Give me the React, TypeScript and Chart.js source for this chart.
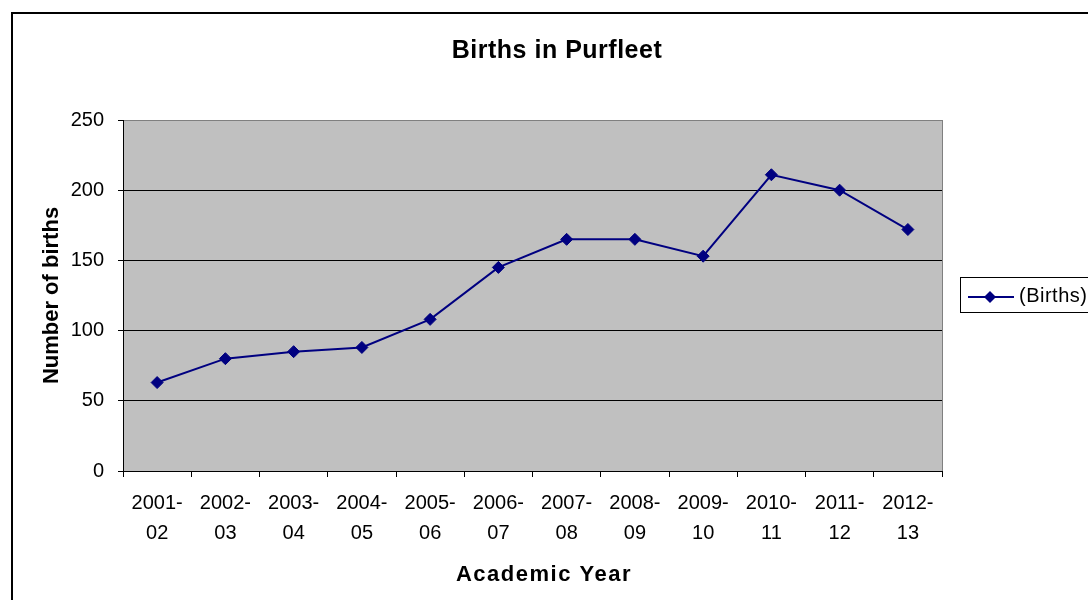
import React, { useEffect, useRef } from "react";
import { Chart, registerables } from "chart.js";

Chart.register(...registerables);

const chartTitle = "Births in Purfleet";
const xAxisTitle = "Academic Year";
const yAxisTitle = "Number of births";
const seriesName = "(Births)";

const categories: string[][] = [
  ["2001-", "02"],
  ["2002-", "03"],
  ["2003-", "04"],
  ["2004-", "05"],
  ["2005-", "06"],
  ["2006-", "07"],
  ["2007-", "08"],
  ["2008-", "09"],
  ["2009-", "10"],
  ["2010-", "11"],
  ["2011-", "12"],
  ["2012-", "13"],
];

const births: number[] = [63, 80, 85, 88, 108, 145, 165, 165, 153, 211, 200, 172];

const yMin = 0;
const yMax = 250;
const yStep = 50;

const FONT = "'Liberation Sans', Arial, sans-serif";
const NAVY = "#000080";

const framePlugin = {
  id: "framePlugin",
  beforeDraw(chart: any) {
    const { ctx, chartArea } = chart;
    ctx.save();
    // outer chart border
    ctx.strokeStyle = "#000";
    ctx.lineWidth = 2;
    ctx.strokeRect(12, 13, 1200, 700);
    // plot area background
    ctx.fillStyle = "#C0C0C0";
    ctx.fillRect(
      chartArea.left,
      chartArea.top,
      chartArea.right - chartArea.left,
      chartArea.bottom - chartArea.top
    );
    ctx.restore();
  },
  beforeDatasetsDraw(chart: any) {
    const { ctx, chartArea } = chart;
    ctx.save();
    ctx.strokeStyle = "#808080";
    ctx.lineWidth = 1;
    ctx.beginPath();
    ctx.moveTo(Math.round(chartArea.right) + 0.5, chartArea.top);
    ctx.lineTo(Math.round(chartArea.right) + 0.5, chartArea.bottom);
    ctx.stroke();
    ctx.restore();
  },
  afterDraw(chart: any) {
    const { ctx } = chart;
    const ds = chart.data.datasets[0];
    ctx.save();
    // chart title
    ctx.fillStyle = "#000";
    ctx.textAlign = "center";
    ctx.textBaseline = "alphabetic";
    ctx.font = `bold 25px ${FONT}`;
    (ctx as any).letterSpacing = "0.5px";
    ctx.fillText(chartTitle, 557, 58);
    // x axis title
    ctx.font = `bold 22px ${FONT}`;
    (ctx as any).letterSpacing = "1.5px";
    ctx.fillText(xAxisTitle, 544, 581);
    (ctx as any).letterSpacing = "0px";

    // legend box
    ctx.strokeStyle = "#000";
    ctx.lineWidth = 1;
    ctx.strokeRect(960.5, 277.5, 140, 35);
    // legend line
    const ly = 297;
    ctx.strokeStyle = ds.borderColor;
    ctx.lineWidth = 2;
    ctx.beginPath();
    ctx.moveTo(968, ly);
    ctx.lineTo(1014, ly);
    ctx.stroke();
    // legend marker (diamond)
    const r = 6;
    ctx.fillStyle = ds.pointBackgroundColor;
    ctx.beginPath();
    ctx.moveTo(990, ly - r);
    ctx.lineTo(990 + r, ly);
    ctx.lineTo(990, ly + r);
    ctx.lineTo(990 - r, ly);
    ctx.closePath();
    ctx.fill();
    // legend text
    ctx.fillStyle = "#000";
    ctx.font = `20px ${FONT}`;
    (ctx as any).letterSpacing = "0.5px";
    ctx.textBaseline = "middle";
    ctx.textAlign = "left";
    ctx.fillText(ds.label, 1019, 296);
    ctx.restore();
  },
};

export default function App() {
  const canvasRef = useRef<HTMLCanvasElement | null>(null);

  useEffect(() => {
    if (!canvasRef.current) return;
    const chart = new Chart(canvasRef.current, {
      type: "line",
      data: {
        labels: categories,
        datasets: [
          {
            label: seriesName,
            data: births,
            borderColor: NAVY,
            backgroundColor: NAVY,
            pointBackgroundColor: NAVY,
            pointBorderColor: NAVY,
            borderWidth: 2,
            pointStyle: "rectRot",
            pointRadius: 6,
            pointBorderWidth: 1,
            tension: 0,
            fill: false,
          },
        ],
      },
      plugins: [framePlugin],
      options: {
        responsive: false,
        animation: false,
        devicePixelRatio: 1,
        layout: { padding: { left: 0, right: 146, top: 120, bottom: 0 } },
        plugins: {
          legend: { display: false },
          tooltip: { enabled: false },
          title: { display: false },
        },
        scales: {
          x: {
            type: "category",
            offset: true,
            afterFit(scale: any) {
              scale.height = 129;
            },
            grid: {
              offset: true,
              drawOnChartArea: false,
              drawTicks: true,
              tickLength: 6,
              tickColor: "#000",
              color: "#000",
            },
            border: { display: true, color: "#000", width: 1 },
            ticks: {
              color: "#000",
              font: { family: FONT, size: 20, lineHeight: 1.5 },
              padding: 11,
              maxRotation: 0,
              autoSkip: false,
            },
            title: { display: false },
          },
          y: {
            min: yMin,
            max: yMax,
            afterFit(scale: any) {
              scale.width = 123;
            },
            grid: {
              color: (ctx: any) => (ctx.tick && ctx.tick.value === yMax ? "#808080" : "#000"),
              lineWidth: 1,
              drawTicks: true,
              tickLength: 5,
              tickColor: "#000",
            },
            border: { display: true, color: "#000", width: 1 },
            ticks: {
              stepSize: yStep,
              color: "#000",
              font: { family: FONT, size: 20 },
              padding: 14,
            },
            title: {
              display: true,
              text: yAxisTitle,
              color: "#000",
              font: { family: FONT, size: 22, weight: "bold", lineHeight: 1.2 },
              padding: { top: 39, bottom: 0 },
            },
          },
        },
      } as any,
    });
    return () => chart.destroy();
  }, []);

  return (
    <div style={{ position: "absolute", left: 0, top: 0, width: 1088, height: 600, background: "#fff" }}>
      <canvas ref={canvasRef} width={1088} height={600} style={{ display: "block" }} />
    </div>
  );
}
